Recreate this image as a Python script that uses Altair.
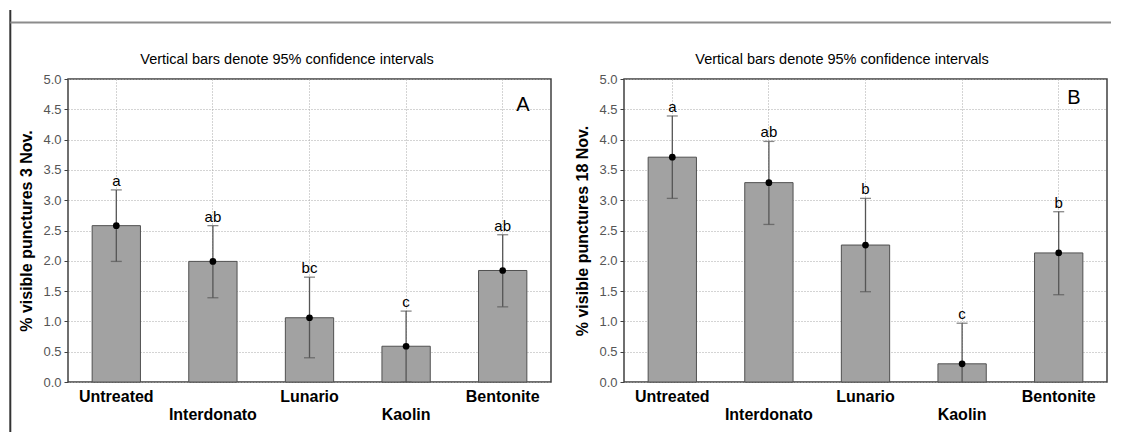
import altair as alt
import pandas as pd

categories = ["Untreated", "Interdonato", "Lunario", "Kaolin", "Bentonite"]
label_row = [1, 2, 1, 2, 1]

mean_a = [2.58, 1.99, 1.06, 0.59, 1.84]
low_a = [1.99, 1.39, 0.40, 0.00, 1.24]
high_a = [3.17, 2.58, 1.73, 1.17, 2.43]
letters_a = ["a", "ab", "bc", "c", "ab"]

mean_b = [3.71, 3.29, 2.26, 0.30, 2.13]
low_b = [3.03, 2.60, 1.49, -0.37, 1.44]
high_b = [4.39, 3.97, 3.03, 0.97, 2.81]
letters_b = ["a", "ab", "b", "c", "b"]

y_ticks = [0.0, 0.5, 1.0, 1.5, 2.0, 2.5, 3.0, 3.5, 4.0, 4.5, 5.0]

W = 483
H = 303
FONT = "Liberation Sans"
TITLE = "Vertical bars denote 95% confidence intervals"


def panel(mean, lo, hi, letters, ytitle, tag, tag_x, tag_y, title_x, border=False):
    df = pd.DataFrame({"cat": categories, "mean": mean, "lo": lo, "hi": hi,
                       "letter": letters, "row": label_row})
    base = alt.Chart(df)
    xenc = alt.X("cat:N", sort=categories, title=None,
                 scale=alt.Scale(paddingInner=0.5, paddingOuter=0.25),
                 axis=alt.Axis(labels=False, ticks=False, domain=False, grid=True,
                               gridDash=[1, 2], gridColor="#a8a8a8", gridWidth=1))
    yaxis = alt.Axis(values=y_ticks, format=".1f", grid=True, gridDash=[1, 2],
                     gridColor="#a8a8a8", gridWidth=1, domain=False,
                     ticks=True, tickSize=4, tickColor="#404040",
                     labelFont=FONT, labelFontSize=13, labelColor="#555555",
                     labelPadding=3, titleFont=FONT, titleFontSize=16,
                     titleFontWeight="bold", titleColor="black", titlePadding=8)
    yscale = alt.Scale(domain=[0, 5], nice=False, zero=True)

    def Y(field):
        return alt.Y(field, scale=yscale, axis=yaxis, title=ytitle)

    bars = base.mark_bar(fill="#a2a2a2", stroke="#505050", strokeWidth=1).encode(
        x=xenc, y=Y("mean:Q"))
    rules = base.mark_rule(color="#555555", strokeWidth=1.3, clip=True).encode(
        x=xenc, y=Y("lo:Q"), y2="hi:Q")
    cap_hi = base.mark_tick(color="#555555", size=11, thickness=1.3).encode(
        x=xenc, y=Y("hi:Q"))
    cap_lo = base.mark_tick(color="#555555", size=11, thickness=1.3, clip=True).encode(
        x=xenc, y=Y("lo:Q"))
    pts = base.mark_point(filled=True, color="black", size=45, opacity=1).encode(
        x=xenc, y=Y("mean:Q"))
    lett = base.mark_text(font=FONT, fontSize=15, dy=-4, baseline="alphabetic",
                          color="black").encode(x=xenc, y=Y("hi:Q"), text="letter:N")
    row1 = base.transform_filter("datum.row == 1").mark_text(
        font=FONT, fontSize=16, fontWeight="bold", baseline="middle", color="black"
    ).encode(x=xenc, y=alt.value(H + 15), text="cat:N")
    row2 = base.transform_filter("datum.row == 2").mark_text(
        font=FONT, fontSize=16, fontWeight="bold", baseline="middle", color="black"
    ).encode(x=xenc, y=alt.value(H + 33), text="cat:N")
    tagdf = pd.DataFrame({"t": [tag], "title": [TITLE]})
    tagt = alt.Chart(tagdf).mark_text(font=FONT, fontSize=20, baseline="middle",
                                      align="center", color="black").encode(
        x=alt.value(tag_x), y=alt.value(tag_y), text="t:N")
    titlet = alt.Chart(tagdf).mark_text(font=FONT, fontSize=14.5, baseline="alphabetic",
                                        align="center", color="black").encode(
        x=alt.value(title_x), y=alt.value(-15), text="title:N")
    layers = [bars, rules, cap_hi, cap_lo, pts, lett, row1, row2, tagt, titlet]
    if border:
        bdf = pd.DataFrame({"d": [0]})
        vline = alt.Chart(bdf).mark_rule(color="#333333", strokeWidth=2).encode(
            x=alt.value(-57.7), y=alt.value(-69), y2=alt.value(353))
        hline = alt.Chart(bdf).mark_rule(color="#8c8c8c", strokeWidth=2).encode(
            x=alt.value(-57.7), x2=alt.value(1043), y=alt.value(-56.5))
        layers += [vline, hline]
    return alt.layer(*layers).properties(width=W, height=H)


pa = panel(mean_a, low_a, high_a, letters_a, "% visible punctures 3 Nov.", "A", 455, 26, 219, border=True)
pb = panel(mean_b, low_b, high_b, letters_b, "% visible punctures 18 Nov.", "B", 450, 19, 218)

chart = alt.hconcat(pa, pb, spacing=73, bounds="flush").properties(
    padding={"top": 0, "left": 0, "right": 0, "bottom": 0}
).configure(font=FONT).configure_view(stroke="#404040", strokeWidth=1.5)

chart.save("out.html", embed_options={"renderer": "svg", "actions": False})
